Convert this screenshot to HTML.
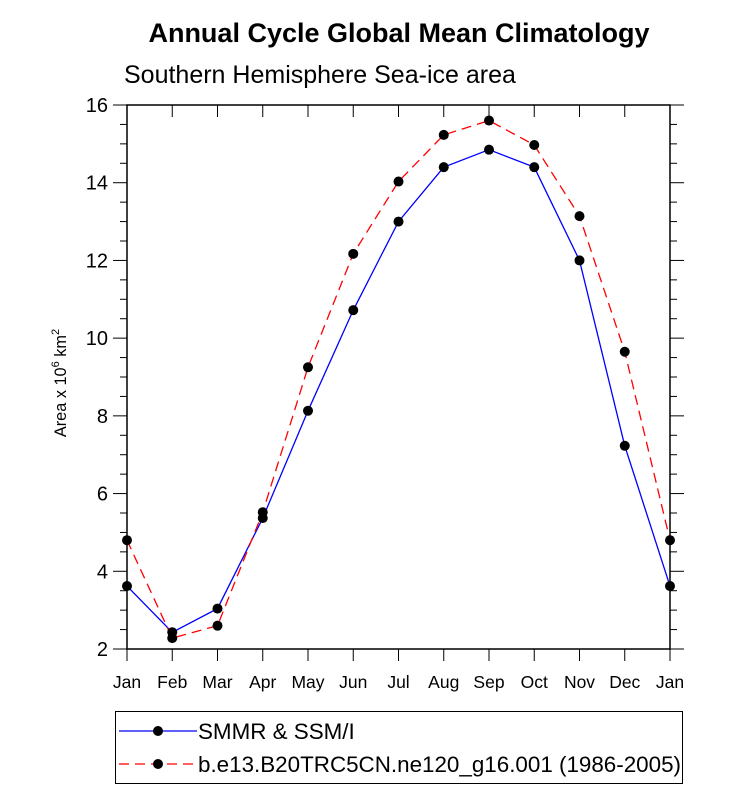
<!DOCTYPE html>
<html><head><meta charset="utf-8"><style>
html,body{margin:0;padding:0;background:#fff;}
svg text{font-family:"Liberation Sans",Arial,sans-serif;}
</style></head><body>
<svg id="chart" width="733" height="790" xmlns="http://www.w3.org/2000/svg">
<text x="399" y="42" text-anchor="middle" font-size="27" font-weight="bold">Annual Cycle Global Mean Climatology</text>
<text x="124" y="83" font-size="25">Southern Hemisphere Sea-ice area</text>
<text transform="translate(66,383) rotate(-90)" text-anchor="middle" font-size="16.3">Area x 10<tspan font-size="11" dy="-7">6</tspan><tspan dy="7"> km</tspan><tspan font-size="11" dy="-7">2</tspan></text>
<g id="axes"></g>
<g id="series"></g>
<g>
<rect x="115.5" y="711.5" width="567" height="72" fill="none" stroke="#000" stroke-width="1"/>
<g>
<line x1="119" y1="731" x2="197" y2="731" stroke="#0000ff" stroke-width="1.3"/>
<circle cx="158" cy="731" r="5" fill="#000"/>
<text x="198" y="739" font-size="22.4">SMMR &amp; SSM/I</text></g>
<g>
<line x1="119" y1="764" x2="197" y2="764" stroke="#ff0000" stroke-width="1.3" stroke-dasharray="10,6"/>
<circle cx="158" cy="764" r="5" fill="#000"/>
<text x="198" y="772" font-size="22.4">b.e13.B20TRC5CN.ne120_g16.001 (1986-2005)</text></g>
</g>
</svg>
<script>
const months = ["Jan","Feb","Mar","Apr","May","Jun","Jul","Aug","Sep","Oct","Nov","Dec","Jan"];
const obsValues = [3.62,2.43,3.04,5.37,8.13,10.72,13.0,14.4,14.85,14.4,12.0,7.23,3.62];
const modelValues = [4.8,2.28,2.6,5.52,9.25,12.17,14.03,15.23,15.6,14.97,13.14,9.65,4.8];
const yTicks = [2,4,6,8,10,12,14,16];

const L=127,R=670,T=105,B=649,yMin=2,yMax=16;
const xS=i=>L+(R-L)*i/(months.length-1);
const yS=v=>B-(B-T)*(v-yMin)/(yMax-yMin);
const NS="http://www.w3.org/2000/svg";
function mk(tag,attrs,parent){const e=document.createElementNS(NS,tag);for(const k in attrs)e.setAttribute(k,attrs[k]);parent.appendChild(e);return e;}
const axes=document.getElementById('axes');
const frame=mk('rect',{x:L,y:T,width:R-L,height:B-T,fill:'none',stroke:'#000','stroke-width':1.5},axes);


for(let v=yMin;v<=yMax+1e-9;v+=0.5){
  const y=yS(v),maj=Math.abs(v-Math.round(v/2)*2)<1e-9;
  const len=maj?14:7;
  mk('line',{x1:L-len,y1:y,x2:L,y2:y,stroke:'#000','stroke-width':1},axes);
  mk('line',{x1:R,y1:y,x2:R+len,y2:y,stroke:'#000','stroke-width':1},axes);
}
yTicks.forEach(v=>{
  const t=mk('text',{x:L-19,y:yS(v)+7,'text-anchor':'end','font-size':20},axes);
  t.textContent=v;
  
  
});
months.forEach((m,i)=>{
  const x=xS(i);
  mk('line',{x1:x,y1:B,x2:x,y2:B+12,stroke:'#000','stroke-width':1},axes);
  mk('line',{x1:x,y1:T,x2:x,y2:T+12,stroke:'#000','stroke-width':1},axes);
  const t=mk('text',{x:x,y:B+39,'text-anchor':'middle','font-size':17.5},axes);
  t.textContent=m;
  
  
});
const ser=document.getElementById('series');
function pts(vals){return vals.map((v,i)=>[xS(i),yS(v)]);}
const op=pts(obsValues);
const obsLine=mk('polyline',{points:op.map(p=>p.join(',')).join(' '),fill:'none',stroke:'#0000ff','stroke-width':1.3},ser);


const mp=pts(modelValues);
const modLine=mk('polyline',{points:mp.map(p=>p.join(',')).join(' '),fill:'none',stroke:'#ff0000','stroke-width':1.3,'stroke-dasharray':'10,6'},ser);


op.forEach(p=>{const c=mk('circle',{cx:p[0],cy:p[1],r:5,fill:'#000'},ser);
  
  });
mp.forEach(p=>{const c=mk('circle',{cx:p[0],cy:p[1],r:5,fill:'#000'},ser);
  
  });
</script>
</body></html>
